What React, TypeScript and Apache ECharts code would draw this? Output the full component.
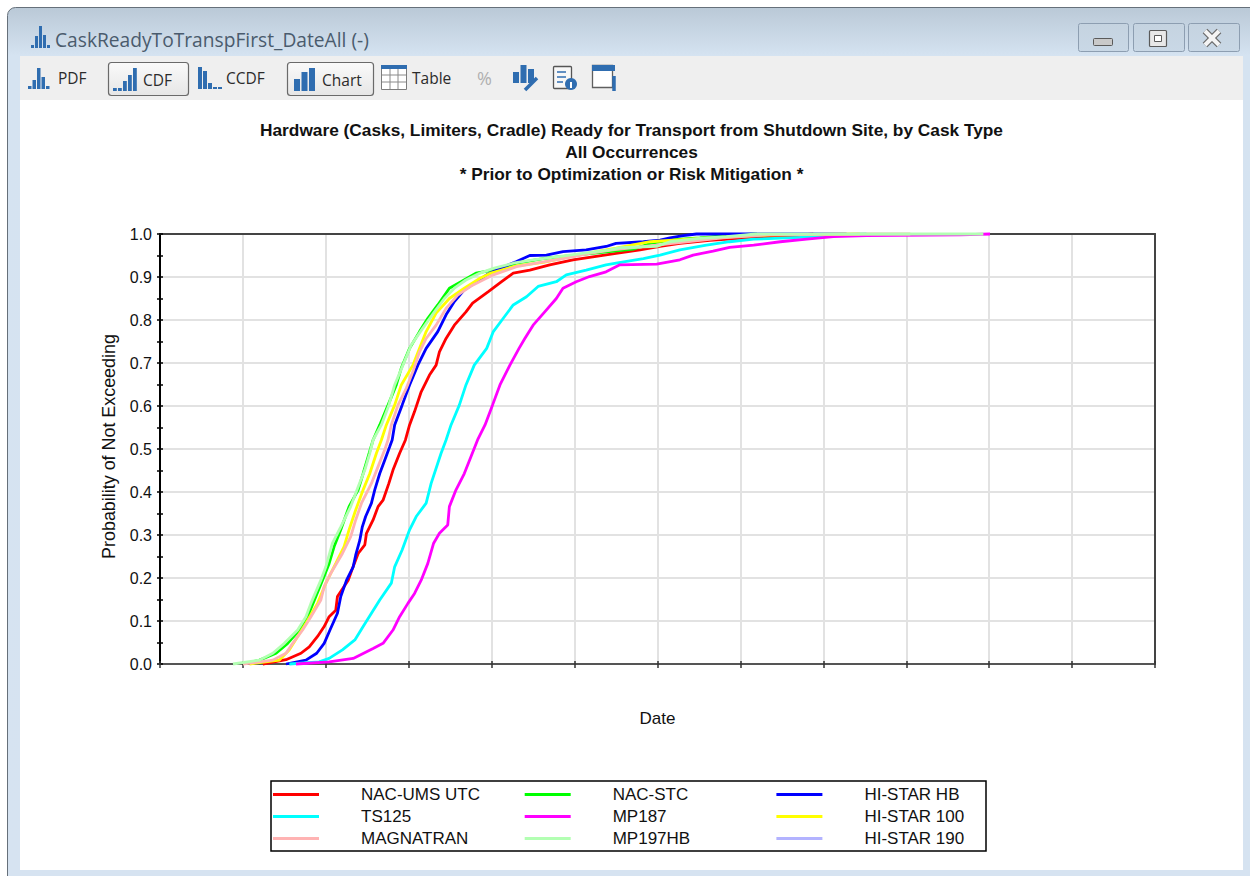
import React, { useEffect, useRef } from "react";
import * as echarts from "echarts";

const sansText = "Liberation Sans, Arial, sans-serif";
const uiText = "Open Sans, Noto Sans, sans-serif";

const windowTitle = "CaskReadyToTranspFirst_DateAll (-)";
const chartTitle = "Hardware (Casks, Limiters, Cradle) Ready for Transport from Shutdown Site, by Cask Type\nAll Occurrences\n* Prior to Optimization or Risk Mitigation *";
const xAxisName = "Date";
const yAxisName = "Probability of Not Exceeding";

// x values are in axis intervals (the date labels are not shown in the reference)
const nacUmsX = [1.24,1.52,1.70,1.80,1.90,1.98,2.04,2.12,2.14,2.27,2.33,2.39,2.47,2.49,2.57,2.63,2.69,2.76,2.81,2.89,2.96,3.01,3.07,3.15,3.25,3.33,3.37,3.45,3.55,3.69,3.77,3.96,4.12,4.26,4.46,4.70,4.98,5.22,5.50,5.79,6.03,6.27,6.63,6.99,7.56,7.88];
const nacUmsP = [0,.01,.025,.04,.064,.087,.11,.125,.157,.195,.227,.257,.277,.304,.335,.366,.381,.42,.451,.49,.521,.556,.587,.633,.672,.695,.726,.757,.788,.819,.839,.866,.889,.909,.916,.928,.94,.947,.955,.963,.971,.978,.985,.99,.995,1];

const nacStcX = [1.0,1.2,1.40,1.54,1.68,1.78,1.88,1.96,2.04,2.10,2.18,2.28,2.39,2.45,2.51,2.57,2.65,2.75,2.85,2.91,3.01,3.13,3.23,3.35,3.49,3.63,3.81,4.02,4.30,4.62,5.71,5.91,6.15,6.51,6.91,7.20];
const nacStcP = [0,.009,.025,.048,.079,.11,.157,.195,.234,.273,.312,.366,.405,.443,.482,.521,.556,.602,.649,.688,.734,.773,.804,.835,.874,.889,.909,.916,.932,.943,.965,.978,.986,.991,.998,1];

const hiStarHbX = [1.52,1.76,1.89,1.98,2.05,2.14,2.18,2.25,2.33,2.36,2.41,2.44,2.48,2.55,2.59,2.65,2.71,2.77,2.80,2.83,2.92,3.01,3.11,3.21,3.35,3.45,3.55,3.67,3.82,3.94,4.10,4.30,4.46,4.66,4.86,5.14,5.38,5.50,5.83,6.03,6.15,6.31,6.47,8.28];
const hiStarHbP = [0,.009,.025,.048,.079,.118,.157,.195,.226,.253,.288,.319,.343,.374,.405,.443,.474,.505,.521,.556,.602,.649,.695,.734,.773,.812,.843,.87,.889,.905,.92,.936,.95,.951,.959,.963,.971,.978,.982,.986,.991,.996,1,1];

const ts125X = [1.56,1.92,2.04,2.20,2.35,2.45,2.55,2.65,2.79,2.83,2.92,3.01,3.09,3.21,3.27,3.35,3.39,3.45,3.51,3.61,3.69,3.79,3.94,4.02,4.14,4.26,4.42,4.56,4.78,4.90,5.14,5.38,5.50,5.83,6.03,6.27,6.59,6.87,7.16,7.72,8.08,8.52];
const ts125P = [0,.005,.013,.033,.056,.087,.118,.149,.188,.226,.265,.312,.343,.374,.42,.467,.49,.521,.556,.602,.649,.695,.734,.773,.804,.835,.854,.878,.889,.905,.916,.928,.932,.943,.951,.963,.974,.982,.988,.992,.998,1];

const mp187X = [1.64,2.04,2.33,2.57,2.69,2.81,2.89,2.99,3.07,3.15,3.23,3.30,3.37,3.47,3.49,3.57,3.67,3.75,3.83,3.92,4.01,4.10,4.22,4.33,4.40,4.50,4.64,4.78,4.86,5.02,5.18,5.38,5.54,5.99,6.27,6.43,6.67,6.87,7.16,7.48,7.80,8.12,8.52,9.65,10.01];
const mp187P = [0,.005,.013,.036,.048,.079,.11,.141,.164,.195,.234,.281,.304,.323,.366,.405,.443,.482,.521,.556,.602,.649,.695,.734,.757,.788,.819,.85,.874,.889,.901,.912,.928,.93,.94,.951,.96,.969,.974,.982,.988,.994,.996,.998,1];

const hiStar100X = [1.08,1.44,1.56,1.66,1.76,1.90,2.0,2.12,2.22,2.28,2.36,2.45,2.53,2.61,2.67,2.73,2.83,2.91,3.05,3.13,3.21,3.33,3.49,3.67,3.86,3.99,4.30,4.62,4.94,5.26,5.50,5.91,6.51,7.36,8.44];
const hiStar100P = [0,.009,.033,.064,.095,.141,.188,.234,.273,.312,.358,.405,.443,.49,.521,.556,.602,.649,.695,.734,.773,.816,.85,.874,.897,.909,.926,.934,.947,.959,.967,.982,.99,.998,1];

const magnatranX = [1.0,1.36,1.52,1.60,1.72,1.82,1.94,1.98,2.06,2.20,2.30,2.36,2.43,2.55,2.63,2.71,2.75,2.79,2.87,2.97,3.05,3.13,3.21,3.33,3.45,3.59,3.77,4.02,4.30,4.54,4.86,5.18,5.46,5.99,6.35,6.79,7.32,8.52,9.05];
const magnatranP = [0,.009,.025,.048,.079,.11,.149,.18,.211,.257,.296,.335,.374,.42,.459,.498,.521,.556,.602,.641,.68,.726,.757,.788,.827,.858,.881,.905,.924,.932,.943,.955,.963,.974,.982,.991,.998,1,1];

const mp197X = [.88,1.2,1.36,1.50,1.66,1.76,1.82,1.94,2.0,2.08,2.18,2.30,2.39,2.47,2.53,2.57,2.67,2.76,2.83,2.93,3.03,3.17,3.31,3.43,3.55,3.69,3.86,4.02,4.26,4.50,4.78,5.10,5.42,5.54,5.99,6.15,6.51,6.83,7.19,9.93];
const mp197P = [0,.009,.025,.048,.079,.11,.141,.195,.226,.281,.319,.366,.412,.451,.49,.521,.556,.602,.649,.695,.742,.781,.819,.85,.874,.893,.909,.92,.932,.94,.947,.955,.963,.968,.971,.982,.99,.994,1,1];

const hiStar190X: number[] = [];
const hiStar190P: number[] = [];

const seriesNames = ["NAC-UMS UTC","NAC-STC","HI-STAR HB","TS125","MP187","HI-STAR 100","MAGNATRAN","MP197HB","HI-STAR 190"];
const seriesColors = ["#ff0000","#00ff00","#0000ff","#00ffff","#ff00ff","#ffff00","#ffb3b3","#b3ffb3","#b3b3ff"];
const seriesX = [nacUmsX,nacStcX,hiStarHbX,ts125X,mp187X,hiStar100X,magnatranX,mp197X,hiStar190X];
const seriesP = [nacUmsP,nacStcP,hiStarHbP,ts125P,mp187P,hiStar100P,magnatranP,mp197P,hiStar190P];
const legendColumns = [
  ["NAC-UMS UTC","TS125","MAGNATRAN"],
  ["NAC-STC","MP187","MP197HB"],
  ["HI-STAR HB","HI-STAR 100","HI-STAR 190"],
];
const toolbarLabels = [
  { text: "PDF", x: 58, y: 78 },
  { text: "CDF", x: 143, y: 80 },
  { text: "CCDF", x: 226, y: 78 },
  { text: "Chart", x: 322, y: 80 },
  { text: "Table", x: 412, y: 78 },
];

const iconBlue = "#2f6db0";

function bars(x: number, base: number, heights: number[], w: number, gap: number, fill = iconBlue) {
  return heights.map((h, i) => ({
    type: "rect",
    silent: true,
    shape: { x: x + i * (w + gap), y: base - h, width: w, height: h },
    style: { fill },
  }));
}
function box(x: number, y: number, width: number, height: number, r: number | number[], style: any) {
  return { type: "rect", silent: true, shape: { x, y, width, height, r }, style };
}
function seg(x1: number, y1: number, x2: number, y2: number, stroke: string, lineWidth = 1) {
  return { type: "line", silent: true, shape: { x1, y1, x2, y2 }, style: { stroke, lineWidth } };
}
const vGrad = (a: string, b: string) =>
  new echarts.graphic.LinearGradient(0, 0, 0, 1, [{ offset: 0, color: a }, { offset: 1, color: b }]);
const frameGrad = new echarts.graphic.LinearGradient(0, 0, 0, 1, [
  { offset: 0, color: "#bac9d7" },
  { offset: 0.055, color: "#d5e3f1" },
  { offset: 1, color: "#d6e3f1" },
]);

function chrome(): any[] {
  const frame = "#d6e3f1";
  const btnStroke = "#8d9eb1";
  const toggle = (x: number, w: number) =>
    box(x + 0.5, 62.5, w, 33, 3, { fill: vGrad("#fafafa", "#e6e6e6"), stroke: "#6a6a6a", lineWidth: 1.2 });
  const winBtn = (x: number, w: number) =>
    box(x + 0.5, 23.5, w, 28, 2, { fill: vGrad("#c5d3e0", "#c9d8e6"), stroke: btnStroke, lineWidth: 1 });
  const els: any[] = [
    box(7.5, 7.5, 1260, 880, [8, 8, 0, 0], { fill: frameGrad, stroke: "#66707a", lineWidth: 1 }),
    box(20, 56, 1223, 44, 0, { fill: "#efefef" }),
    box(20, 100, 1223, 770, 0, { fill: "#ffffff" }),
    box(8, 870, 1242, 6, 0, { fill: frame }),
    ...bars(31, 48, [3, 12, 22, 13, 3], 3, 1),
    {
      type: "text", silent: true, x: 55, y: 39,
      style: { text: windowTitle, font: `19.2px ${uiText}`, fill: "#4a5b6d", verticalAlign: "middle", align: "left" },
    },
    winBtn(1078, 50), winBtn(1133, 51), winBtn(1188, 51),
    box(1093.5, 38.5, 19, 7, 1, { fill: "#c9c9c9", stroke: "#5a5a5a", lineWidth: 1 }),
    box(1149.5, 30.5, 17, 16, 1, { fill: "#e8e8e8", stroke: "#5a5a5a", lineWidth: 1.2 }),
    box(1154.5, 35.5, 7, 6, 0, { fill: "#ffffff", stroke: "#5a5a5a", lineWidth: 1 }),
    seg(1205, 31, 1219, 45, "#6a6a6a", 6.5),
    seg(1219, 31, 1205, 45, "#6a6a6a", 6.5),
    seg(1205, 31, 1219, 45, "#f4f4f4", 4),
    seg(1219, 31, 1205, 45, "#f4f4f4", 4),
    toggle(108, 80),
    toggle(287, 86),
    ...bars(28, 89, [3, 9, 21, 12, 3], 3.5, 1),
    ...bars(113, 91, [3, 3, 10, 16, 23], 3.8, 1.2),
    ...bars(198, 89, [22, 18, 6, 2, 2], 4, 1),
    ...bars(294, 91, [12, 19, 23], 6, 1.5),
    box(381.5, 65.5, 25, 24, 0, { fill: "#ffffff", stroke: "#7c7c7c", lineWidth: 1 }),
    box(381, 65, 26, 4, 0, { fill: iconBlue }),
    seg(390, 69, 390, 89, "#8a8a8a"), seg(398, 69, 398, 89, "#8a8a8a"),
    seg(382, 75, 406, 75, "#8a8a8a"), seg(382, 82, 406, 82, "#8a8a8a"),
    {
      type: "text", silent: true, x: 477, y: 78,
      style: { text: "%", font: `18px ${uiText}`, fill: "#b0b0b0", verticalAlign: "middle", align: "left" },
    },
    ...bars(513, 83, [11, 18, 14], 6, 1.5),
    seg(525, 90, 537, 78, iconBlue, 3.5),
    box(553.5, 66.5, 18, 22, 1, { fill: "#f7f7f7", stroke: "#555555", lineWidth: 1.3 }),
    seg(557, 72, 566, 72, iconBlue, 1.5), seg(557, 77, 566, 77, iconBlue, 1.5), seg(557, 82, 563, 82, iconBlue, 1.5),
    { type: "circle", silent: true, shape: { cx: 571, cy: 84, r: 6 }, style: { fill: iconBlue } },
    seg(571, 82, 571, 88, "#ffffff", 2),
    box(592.5, 65.5, 20, 22, 0, { fill: "#ffffff", stroke: "#5f5f5f", lineWidth: 1.3 }),
    box(592, 65, 23, 6, 0, { fill: iconBlue }),
    seg(614, 76, 614, 91, iconBlue, 3.5),
  ];
  toolbarLabels.forEach((l) => {
    els.push({
      type: "text", silent: true, x: l.x, y: l.y,
      style: { text: l.text, font: `15.5px ${uiText}`, fill: "#2b2b2b", verticalAlign: "middle", align: "left" },
    });
  });
  els.push(box(271, 781, 715, 70, 0, { fill: "transparent", stroke: "#000000", lineWidth: 1.5 }));
  return els;
}

const frameAxisBase = {
  type: "value",
  axisLabel: { show: false },
  axisTick: { show: false },
  splitLine: { show: false },
  axisLine: { show: true, onZero: false, lineStyle: { color: "#444444", width: 2 } },
};

export default function App() {
  const ref = useRef<HTMLDivElement>(null);
  useEffect(() => {
    const chart = echarts.init(ref.current!, null, { renderer: "svg" });
    chart.setOption({
      animation: false,
      backgroundColor: "#ffffff",
      textStyle: { fontFamily: sansText },
      title: {
        text: chartTitle,
        left: 626.5,
        top: 114,
        textAlign: "center",
        textStyle: { fontSize: 17.3, fontWeight: "bold", color: "#111111", lineHeight: 22, fontFamily: sansText },
      },
      graphic: { elements: chrome() },
      grid: { left: 160, right: 95, top: 234, bottom: 212 },
      xAxis: [
        {
          type: "value", min: 0, max: 12, interval: 1,
          name: xAxisName, nameLocation: "middle", nameGap: 46,
          nameTextStyle: { fontSize: 17, color: "#111111" },
          axisLabel: { show: false },
          axisTick: { show: true, length: 4, lineStyle: { color: "#333333", width: 1.5 } },
          axisLine: { show: true, lineStyle: { color: "#555555", width: 2 } },
          splitLine: { show: true, showMinLine: false, showMaxLine: false, lineStyle: { color: "#e2e2e2", width: 2 } },
        },
        {
          type: "value", min: 0, max: 12, interval: 1, position: "bottom",
          axisLabel: { show: false },
          axisTick: { show: true, inside: true, length: 3, lineStyle: { color: "#333333", width: 1.5 } },
          axisLine: { show: false },
          splitLine: { show: false },
        },
        { ...frameAxisBase, min: 0, max: 12, interval: 1, position: "top" },
      ],
      yAxis: [
        {
          type: "value", min: 0, max: 1, interval: 0.1,
          name: yAxisName, nameLocation: "middle", nameGap: 42, nameRotate: 90,
          nameTextStyle: { fontSize: 17.9, color: "#111111", padding: [0, 0, 0, 5] },
          axisLabel: { fontSize: 16, color: "#111111", margin: 8, formatter: (v: number) => v.toFixed(1) },
          axisTick: { show: true, length: 3, lineStyle: { color: "#000000", width: 1.5 } },
          minorTick: { show: true, splitNumber: 2, length: 3, lineStyle: { color: "#000000", width: 1.5 } },
          axisLine: { show: true, lineStyle: { color: "#000000", width: 2 } },
          splitLine: { show: true, showMinLine: false, showMaxLine: false, lineStyle: { color: "#e2e2e2", width: 2 } },
        },
        {
          type: "value", min: 0, max: 1, interval: 0.1, position: "left",
          axisLabel: { show: false },
          axisTick: { show: true, inside: true, length: 3, lineStyle: { color: "#000000", width: 1.5 } },
          minorTick: { show: true, splitNumber: 2, length: 3, lineStyle: { color: "#000000", width: 1.5 } },
          axisLine: { show: false },
          splitLine: { show: false },
        },
        { ...frameAxisBase, min: 0, max: 1, interval: 0.1, position: "right" },
      ],
      legend: legendColumns.map((names, i) => ({
        orient: "vertical",
        left: 268 + i * 251.7,
        top: 781,
        padding: 5,
        data: names.map((name) => ({ name, icon: "rect" })),
        selectedMode: false,
        itemWidth: 46,
        itemHeight: 3,
        itemGap: 5,
        textStyle: { fontSize: 17, color: "#111111", lineHeight: 16, padding: [1, 0, 0, 37] },
      })),
      series: seriesNames.map((name, i) => ({
        name,
        type: "line",
        showSymbol: false,
        symbol: "none",
        clip: false,
        z: 3,
        lineStyle: { color: seriesColors[i], width: 2.8 },
        itemStyle: { color: seriesColors[i] },
        data: seriesX[i].map((x, k) => [x, seriesP[i][k]]),
      })),
    });
    return () => chart.dispose();
  }, []);
  return <div ref={ref} style={{ position: "fixed", left: 0, top: 0, width: 1250, height: 876 }} />;
}
